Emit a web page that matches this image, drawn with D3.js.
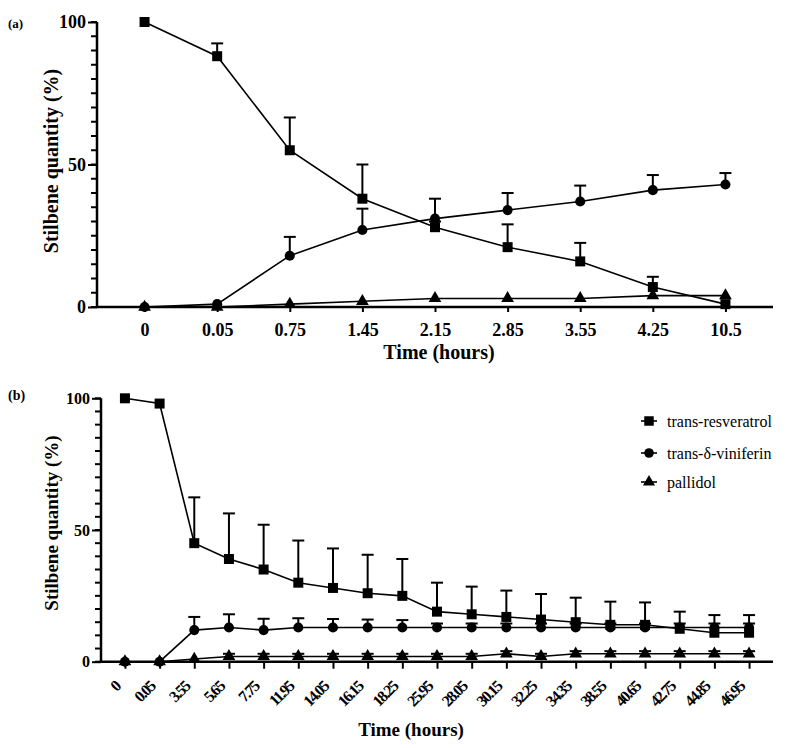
<!DOCTYPE html>
<html><head><meta charset="utf-8">
<script src="https://cdn.jsdelivr.net/npm/d3@7"></script>
<style>
body{margin:0;background:#fff;}
svg{display:block;}
</style></head>
<body><svg id="c" width="793" height="748"></svg>
<script>
// ---- Data ----
const catsA = ["0","0.05","0.75","1.45","2.15","2.85","3.55","4.25","10.5"];
const resA   = [100, 88, 55, 38, 28, 21, 16, 7, 1];
const resSdA = [0, 4.5, 11.5, 12, 2, 8, 6.5, 3.6, 0];
const vinA   = [0, 1, 18, 27, 31, 34, 37, 41, 43];
const vinSdA = [0, 0, 6.6, 7.5, 7, 6, 5.6, 5.3, 4];
const palA   = [0, 0, 1, 2, 3, 3, 3, 4, 4];
const palSdA = [0, 0, 0, 0, 0, 0, 0, 0, 0];

const catsB = ["0","0.05","3.55","5.65","7.75","11.95","14.05","16.15","18.25","25.95","28.05","30.15","32.25","34.35","38.55","40.65","42.75","44.85","46.95"];
const resB   = [100, 98, 45, 39, 35, 30, 28, 26, 25, 19, 18, 17, 16, 15, 14, 14, 12.5, 11, 11];
const resSdB = [0, 0, 17.4, 17.3, 17, 16, 15, 14.6, 14, 11, 10.5, 10, 9.7, 9.3, 8.8, 8.5, 6.5, 6.7, 6.7];
const vinB   = [0, 0, 12, 13, 12, 13, 13, 13, 13, 13, 13, 13, 13, 13, 13, 13, 13, 13, 13];
const vinSdB = [0, 0, 5, 5, 4.3, 3.5, 3.2, 3, 2.8, 1.5, 1.5, 1.5, 1.5, 1.5, 1.5, 1.5, 1.5, 1.5, 1.5];
const palB   = [0, 0, 1, 2, 2, 2, 2, 2, 2, 2, 2, 3, 2, 3, 3, 3, 3, 3, 3];
const palSdB = [0, 0, 0, 1, 1, 1, 1, 1, 1, 1, 1, 1, 1, 1, 1, 1, 1, 1, 1];

const yTicks = [0, 50, 100];
const seriesNames = ["trans-resveratrol", "trans-\u03B4-viniferin", "pallidol"];
const shapes = [d3.symbolSquare, d3.symbolCircle, d3.symbolTriangle];
const symSizes = [100, 80, 70];
const FONT = '"Liberation Serif", "Times New Roman", serif';

const svg = d3.select("#c");

function panel(cfg){
  const g = svg.append("g");
  const x = d3.scalePoint().domain(cfg.cats).range([cfg.x0, cfg.x1]).padding(cfg.pad);
  const y = d3.scaleLinear().domain([0,100]).range([cfg.yb, cfg.yt]);

  // minor ticks
  g.append("g").selectAll("line").data(d3.range(0,101,5)).join("line")
    .attr("x1", cfg.x0 - 6).attr("x2", cfg.x0).attr("y1", d=>y(d)).attr("y2", d=>y(d))
    .attr("stroke","#000").attr("stroke-width",2);
  // y axis
  const ya = g.append("g").attr("transform",`translate(${cfg.x0},0)`)
    .call(d3.axisLeft(y).tickValues(yTicks).tickSize(9).tickPadding(2));
  ya.attr("font-family", FONT);
  ya.select(".domain").attr("stroke-width",2.5).attr("d",`M0,${cfg.yt}V${cfg.yb}`);
  ya.selectAll(".tick line").attr("stroke-width",2);
  ya.selectAll(".tick text").attr("font-size",cfg.yfs).attr("font-weight","bold")
    .attr("font-family",FONT);

  // x axis
  const xa = g.append("g").attr("transform",`translate(0,${cfg.yb})`)
    .call(d3.axisBottom(x).tickSize(cfg.xtick).tickPadding(6));
  xa.attr("font-family", FONT);
  xa.select(".domain").attr("stroke-width",2.5).attr("d",`M${cfg.x0},0H${cfg.x1}`);
  xa.selectAll(".tick line").attr("stroke-width",2);
  const xt = xa.selectAll(".tick text").attr("font-weight","bold")
    .attr("font-family",FONT);
  if(cfg.rot){
    xt.attr("font-size",16).attr("letter-spacing","-1.6px")
      .attr("text-anchor","end").attr("y",0).attr("dy","0.35em")
      .attr("transform","translate(-8,22) rotate(-45)");
  } else {
    xt.attr("font-size",18).attr("y",16).attr("dy","0.71em");
  }

  // axis titles
  g.append("text").attr("x",cfg.xtX).attr("y",cfg.xtY).attr("text-anchor","middle")
    .attr("font-family",FONT)
    .attr("font-size",cfg.tfs).attr("font-weight","bold").text("Time (hours)");
  g.append("text").attr("transform",`translate(${cfg.ytX},${cfg.ytY}) rotate(-90)`)
    .attr("font-family",FONT)
    .attr("text-anchor","middle").attr("font-size",cfg.ytfs).attr("font-weight","bold")
    .text("Stilbene quantity (%)");
  g.append("text").attr("x",8).attr("y",cfg.labY).attr("font-size",cfg.labfs)
    .attr("font-family",FONT)
    .attr("font-weight","bold").text(cfg.label);

  const series = cfg.series;
  const line = d3.line().x((d,i)=>x(cfg.cats[i])).y(d=>y(d));
  // lines
  series.forEach(s=>{
    g.append("path").datum(s.v).attr("d",line).attr("fill","none")
      .attr("stroke","#000").attr("stroke-width",1.6);
  });
  // error bars
  series.forEach(s=>{
    const eg = g.append("g");
    s.v.forEach((v,i)=>{
      const sd = s.sd[i];
      if(!sd) return;
      const cx = x(cfg.cats[i]);
      eg.append("line").attr("x1",cx).attr("x2",cx).attr("y1",y(v)).attr("y2",y(v+sd))
        .attr("stroke","#000").attr("stroke-width",2);
      eg.append("line").attr("x1",cx-6).attr("x2",cx+6).attr("y1",y(v+sd)).attr("y2",y(v+sd))
        .attr("stroke","#000").attr("stroke-width",2);
    });
  });
  // markers
  series.forEach((s,k)=>{
    g.append("g").selectAll("path").data(s.v).join("path")
      .attr("transform",(d,i)=>`translate(${x(cfg.cats[i])},${y(d)})`)
      .attr("d",d3.symbol().type(shapes[k]).size(symSizes[k]))
      .attr("fill","#000");
  });
  return {x,y,g};
}

panel({
  cats: catsA, x0: 97, x1: 773, pad: 0.655, yb: 307, yt: 22, yfs: 18, xtick: 5,
  rot: false, xtX: 439, xtY: 359, tfs: 20, ytX: 58, ytY: 161, ytfs: 20,
  label: "(a)", labY: 28, labfs: 13,
  series: [{v:resA, sd:resSdA},{v:vinA, sd:vinSdA},{v:palA, sd:palSdA}]
});

panel({
  cats: catsB, x0: 101, x1: 773, pad: 0.69, yb: 661.7, yt: 398.3, yfs: 16, xtick: 7,
  rot: true, xtX: 411, xtY: 736, tfs: 19, ytX: 58, ytY: 523, ytfs: 19,
  label: "(b)", labY: 400, labfs: 14,
  series: [{v:resB, sd:resSdB},{v:vinB, sd:vinSdB},{v:palB, sd:palSdB}]
});

// legend
const lg = svg.append("g");
const legY = [421, 453, 482];
seriesNames.forEach((n,k)=>{
  lg.append("line").attr("x1",641).attr("x2",657).attr("y1",legY[k]).attr("y2",legY[k])
    .attr("stroke","#000").attr("stroke-width",1.6);
  lg.append("path").attr("transform",`translate(649,${legY[k]})`)
    .attr("d",d3.symbol().type(shapes[k]).size(symSizes[k]*0.9)).attr("fill","#000");
  lg.append("text").attr("x",667).attr("y",legY[k]).attr("dy","0.35em")
    .attr("font-family",FONT)
    .attr("font-size",16).text(n);
});
</script></body></html>
